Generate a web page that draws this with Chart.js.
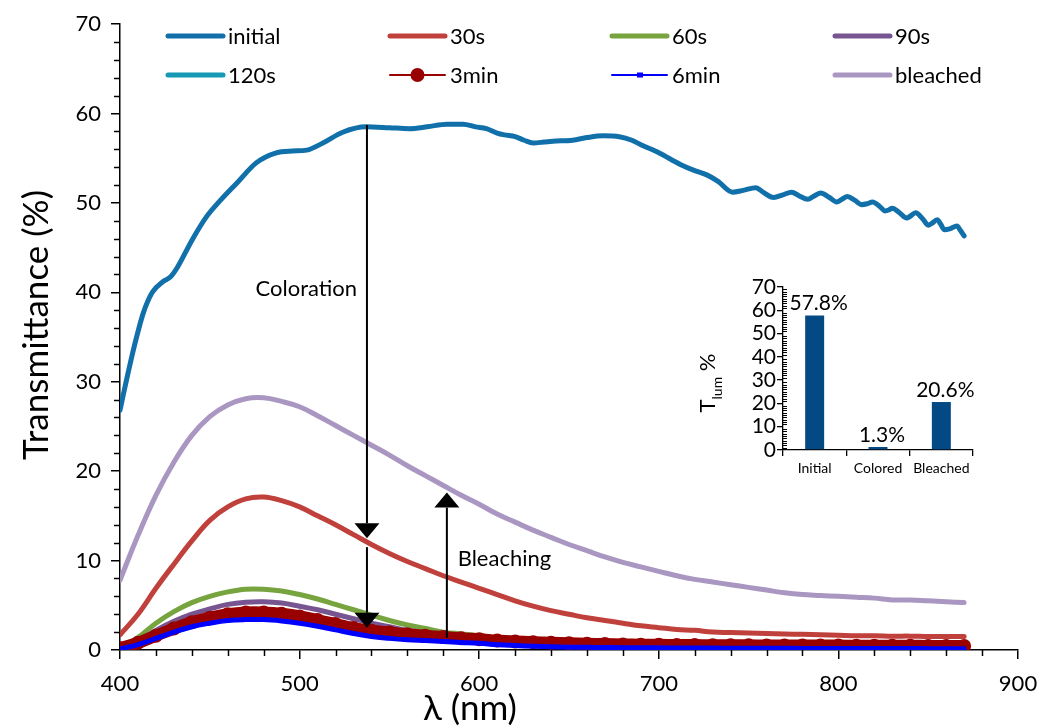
<!DOCTYPE html>
<html><head><meta charset="utf-8">
<script src="https://cdn.jsdelivr.net/npm/chart.js@4.4.1/dist/chart.umd.min.js"></script>
<style>
html,body{margin:0;padding:0;background:#fff;}
#wrap{position:relative;width:1043px;height:727px;overflow:hidden;}
#main{position:absolute;left:0;top:0;}
#inset{position:absolute;left:680px;top:270px;}
</style></head><body>
<div id="wrap"><canvas id="main" width="1043" height="727"></canvas><canvas id="inset" width="310" height="215"></canvas></div>
<script>
// ---------- data ----------
const wl = [400,410,420,430,440,450,460,470,480,490,500,510,520,530,540,550,560,570,580,590,600,610,620,630,640,650,660,670,680,690,700,710,720,730,740,750,760,770,780,790,800,810,820,830,840,850,860,870];

const initWl = [400,402,408,413,418,424,428,432,440,448,456,465,476,487,496,504,513,524,537,550,561,571,582,591,598,604,610,614,620,625,630,636,641,652,660,669,678,685,690,700,712,720,727,733,741,747,754,758,764,769,774,778,783,786,790,795,799,802,805,809,813,816,819,823,826,828,830,834,838,840,843,847,850,852,855,857,859,862,866,868,870];
const initT = [26.8,28.7,34.0,37.7,40.0,41.2,41.7,42.8,45.8,48.4,50.3,52.2,54.5,55.6,55.8,55.9,56.7,57.9,58.5,58.4,58.3,58.5,58.8,58.8,58.5,58.3,57.8,57.6,57.4,57.0,56.7,56.8,56.9,57.0,57.3,57.5,57.4,57.0,56.5,55.6,54.3,53.6,53.1,52.4,51.2,51.4,51.7,51.2,50.6,50.9,51.2,50.8,50.4,50.7,51.1,50.6,50.1,50.4,50.7,50.3,49.8,49.9,50.1,49.6,49.1,49.2,49.4,48.9,48.3,48.5,48.9,48.2,47.5,47.7,48.1,47.6,47.0,47.1,47.4,46.9,46.3];

const t30s = [1.7,4.0,6.9,9.6,12.2,14.5,16.0,16.9,17.1,16.7,16.0,15.0,14.0,12.9,11.8,10.8,9.9,9.1,8.3,7.6,6.9,6.2,5.5,4.9,4.4,4.0,3.6,3.3,3.0,2.7,2.5,2.3,2.2,2.0,1.95,1.9,1.85,1.8,1.75,1.7,1.65,1.6,1.6,1.55,1.55,1.5,1.5,1.5];
const t60s = [0.3,1.4,3.0,4.3,5.3,6.0,6.5,6.8,6.8,6.6,6.2,5.7,5.1,4.5,3.9,3.3,2.8,2.4,2.0,1.8,1.6,1.4,1.3,1.2,1.1,1.0,0.95,0.9,0.85,0.8,0.78,0.75,0.72,0.7,0.68,0.66,0.64,0.62,0.6,0.58,0.57,0.56,0.55,0.54,0.53,0.52,0.51,0.5];
const t90s = [0.2,1.0,2.2,3.2,4.0,4.6,5.1,5.35,5.4,5.25,4.9,4.5,4.0,3.5,3.0,2.6,2.2,1.9,1.65,1.45,1.3,1.15,1.05,0.95,0.9,0.85,0.8,0.76,0.72,0.7,0.67,0.65,0.63,0.61,0.59,0.57,0.56,0.55,0.54,0.53,0.52,0.51,0.5,0.49,0.48,0.47,0.46,0.45];
const t120s = [0.2,0.9,1.8,2.6,3.3,3.8,4.2,4.4,4.45,4.3,4.0,3.6,3.2,2.8,2.4,2.1,1.8,1.55,1.35,1.2,1.05,0.95,0.88,0.8,0.75,0.72,0.69,0.66,0.63,0.61,0.59,0.57,0.56,0.55,0.54,0.53,0.52,0.51,0.5,0.5,0.49,0.48,0.48,0.47,0.47,0.46,0.46,0.45];
const t3min = [0.2,0.8,1.6,2.4,3.1,3.6,4.0,4.2,4.2,4.05,3.75,3.35,2.9,2.45,2.15,1.95,1.75,1.6,1.45,1.3,1.2,1.05,0.95,0.88,0.8,0.75,0.7,0.66,0.62,0.6,0.58,0.56,0.55,0.54,0.53,0.52,0.51,0.5,0.5,0.49,0.49,0.48,0.48,0.47,0.47,0.46,0.46,0.45];
const t6min = [0.1,0.6,1.3,2.0,2.6,3.0,3.3,3.4,3.4,3.25,3.0,2.65,2.25,1.85,1.5,1.3,1.15,1.05,0.95,0.85,0.75,0.6,0.5,0.42,0.36,0.32,0.3,0.28,0.26,0.25,0.24,0.23,0.22,0.21,0.2,0.2,0.19,0.19,0.18,0.18,0.17,0.17,0.16,0.16,0.16,0.15,0.15,0.15];
const tBleached = [7.8,12.8,17.3,21.0,24.0,26.1,27.4,28.1,28.2,27.8,27.2,26.2,25.1,24.0,22.9,21.8,20.6,19.5,18.4,17.3,16.3,15.2,14.3,13.4,12.6,11.8,11.1,10.4,9.8,9.3,8.8,8.3,7.9,7.6,7.3,7.0,6.7,6.4,6.2,6.1,6.0,5.9,5.8,5.6,5.6,5.5,5.4,5.3];

const seriesNames = ['initial','30s','60s','90s','120s','3min','6min','bleached'];
const xTicks = [400,500,600,700,800,900];
const yTicks = [0,10,20,30,40,50,60,70];

// annotations (data coordinates)
const arrowX = [537.5, 537.5, 582];
const arrowFrom = [58.7, 11.5, 1.35];
const arrowTo = [12.5, 2.5, 17.6];
const noteText = ['Coloration', 'Bleaching'];
const noteX = [532, 588];
const noteY = [40.4, 10.2];

// inset
const insetCats = ['Initial','Colored','Bleached'];
const insetVals = [57.8, 1.3, 20.6];
const insetTicks = [0,10,20,30,40,50,60,70];

// ---------- rendering ----------
const FONT = 'Lato, "Open Sans", sans-serif';
const pts = (xs, ys) => xs.map((x, i) => ({x: x, y: ys[i]}));

const styles = [
  {c:'#1170AA', w:5},
  {c:'#C0403C', w:5},
  {c:'#77A43F', w:5},
  {c:'#775590', w:5},
  {c:'#1599B4', w:5},
  {c:'#990000', w:12, pr:7, ps:'circle'},
  {c:'#0000FF', w:5, pr:2.5, ps:'rect'},
  {c:'#A997C2', w:5}
];
const seriesData = [pts(initWl, initT), pts(wl,t30s), pts(wl,t60s), pts(wl,t90s), pts(wl,t120s), pts(wl,t3min), pts(wl,t6min), pts(wl,tBleached)];

const datasets = seriesNames.map((n, i) => ({
  label: n,
  data: seriesData[i],
  borderColor: styles[i].c,
  backgroundColor: styles[i].c,
  borderWidth: styles[i].w,
  pointRadius: styles[i].pr || 0,
  pointStyle: styles[i].ps || 'circle',
  pointBackgroundColor: styles[i].c,
  pointBorderWidth: 0,
  borderCapStyle: 'round',
  borderJoinStyle: 'round',
  cubicInterpolationMode: i === 0 ? 'monotone' : 'default',
  tension: 0.4,
  fill: false,
  order: 7 - i
}));

const decorPlugin = {
  id: 'decor',
  afterDraw(chart) {
    const ctx = chart.ctx, xs = chart.scales.x, ys = chart.scales.y, ca = chart.chartArea;
    ctx.save();
    // minor ticks
    ctx.strokeStyle = '#000'; ctx.lineWidth = 1.5;
    for (let v = 420; v < 900; v += 20) {
      if (v % 100 === 0) continue;
      const px = Math.round(xs.getPixelForValue(v)) + 0.5;
      ctx.beginPath(); ctx.moveTo(px, ca.bottom); ctx.lineTo(px, ca.bottom + 6); ctx.stroke();
    }
    for (let v = 2; v < 70; v += 2) {
      if (v % 10 === 0) continue;
      const py = Math.round(ys.getPixelForValue(v)) + 0.5;
      ctx.beginPath(); ctx.moveTo(ca.left, py); ctx.lineTo(ca.left - 6, py); ctx.stroke();
    }
    // arrows
    ctx.fillStyle = '#000'; ctx.strokeStyle = '#000'; ctx.lineWidth = 2;
    for (let i = 0; i < arrowX.length; i++) {
      const x = xs.getPixelForValue(arrowX[i]);
      const y1 = ys.getPixelForValue(arrowFrom[i]);
      const y2 = ys.getPixelForValue(arrowTo[i]);
      const dir = y2 > y1 ? 1 : -1;
      const hl = 15, hw = 12.5;
      ctx.beginPath(); ctx.moveTo(x, y1); ctx.lineTo(x, y2 - dir * hl); ctx.stroke();
      ctx.beginPath(); ctx.moveTo(x, y2); ctx.lineTo(x - hw, y2 - dir * hl); ctx.lineTo(x + hw, y2 - dir * hl); ctx.closePath(); ctx.fill();
    }
    // notes
    ctx.font = '22px ' + FONT; ctx.textBaseline = 'middle';
    ctx.textAlign = 'right';
    ctx.fillText(noteText[0], xs.getPixelForValue(noteX[0]), ys.getPixelForValue(noteY[0]));
    ctx.textAlign = 'left';
    ctx.fillText(noteText[1], xs.getPixelForValue(noteX[1]), ys.getPixelForValue(noteY[1]));
    // axis titles
    ctx.font = '35px ' + FONT; ctx.textAlign = 'center'; ctx.textBaseline = 'alphabetic';
    ctx.fillText('λ (nm)', 470, 720);
    ctx.save(); ctx.translate(48, 325); ctx.rotate(-Math.PI / 2);
    ctx.fillText('Transmittance (%)', 0, 0); ctx.restore();
    // legend
    const colX = [168, 390, 612, 835], rowY = [36, 75];
    ctx.font = '22px ' + FONT; ctx.textBaseline = 'middle'; ctx.textAlign = 'left';
    chart.data.datasets.forEach((ds, i) => {
      const x = colX[i % 4], y = rowY[Math.floor(i / 4)];
      ctx.strokeStyle = ds.borderColor; ctx.lineCap = 'round';
      const marker = ds.pointRadius > 0;
      ctx.lineWidth = marker ? 2 : 5;
      ctx.beginPath(); ctx.moveTo(x, y); ctx.lineTo(x + 55, y); ctx.stroke();
      if (marker) {
        ctx.fillStyle = ds.borderColor;
        if (ds.pointStyle === 'circle') { ctx.beginPath(); ctx.arc(x + 27.5, y, 7, 0, Math.PI * 2); ctx.fill(); }
        else { ctx.fillRect(x + 25, y - 2.5, 6, 5); }
      }
      ctx.fillStyle = '#000';
      ctx.fillText(ds.label, x + 60, y + 1);
    });
    ctx.restore();
  }
};

new Chart(document.getElementById('main'), {
  type: 'line',
  data: { datasets: datasets },
  options: {
    responsive: false, animation: false,
    layout: { padding: { top: 24, right: 25, left: 0, bottom: 0 } },
    plugins: { legend: { display: false }, tooltip: { enabled: false } },
    scales: {
      x: {
        type: 'linear', min: 400, max: 900,
        afterFit(s) { s.height = 77; s.paddingRight = 0; s.paddingLeft = 0; },
        afterBuildTicks(s) { s.ticks = xTicks.map(v => ({ value: v })); },
        ticks: { font: { family: FONT, size: 22 }, color: '#000', padding: 12, maxRotation: 0, autoSkip: false },
        grid: { drawOnChartArea: false, tickLength: 9, color: '#000', lineWidth: 1.5 },
        border: { color: '#000', width: 1.5 }
      },
      y: {
        min: 0, max: 70,
        afterFit(s) { s.width = 120; s.paddingTop = 0; s.paddingBottom = 0; },
        afterBuildTicks(s) { s.ticks = yTicks.map(v => ({ value: v })); },
        ticks: { font: { family: FONT, size: 22 }, color: '#000', padding: 10, autoSkip: false },
        grid: { drawOnChartArea: false, tickLength: 9, color: '#000', lineWidth: 1.5 },
        border: { color: '#000', width: 1.5 }
      }
    }
  },
  plugins: [decorPlugin]
});

const insetPlugin = {
  id: 'insetDecor',
  afterDraw(chart) {
    const ctx = chart.ctx, ys = chart.scales.y, ca = chart.chartArea;
    ctx.save();
    ctx.strokeStyle = '#000'; ctx.lineWidth = 1;
    for (let v = 1; v < 70; v++) {
      if (v % 10 === 0) continue;
      const py = Math.round(ys.getPixelForValue(v)) + 0.5;
      ctx.beginPath(); ctx.moveTo(ca.left, py); ctx.lineTo(ca.left + 4, py); ctx.stroke();
    }
    // value labels
    const meta = chart.getDatasetMeta(0);
    ctx.fillStyle = '#000'; ctx.font = '21px ' + FONT; ctx.textAlign = 'center'; ctx.textBaseline = 'alphabetic';
    meta.data.forEach((bar, i) => {
      ctx.fillText(insetVals[i].toFixed(1) + '%', bar.x + 4, bar.y - 5);
    });
    // y title with subscript
    ctx.save(); ctx.translate(35, 113); ctx.rotate(-Math.PI / 2);
    ctx.font = '22px ' + FONT; const wT = ctx.measureText('T').width; const wP = ctx.measureText(' %').width;
    ctx.font = '14px ' + FONT; const wS = ctx.measureText('lum').width;
    let x0 = -(wT + wS + wP) / 2;
    ctx.textAlign = 'left';
    ctx.font = '22px ' + FONT; ctx.fillText('T', x0, 0);
    ctx.font = '14px ' + FONT; ctx.fillText('lum', x0 + wT, 7);
    ctx.font = '22px ' + FONT; ctx.fillText(' %', x0 + wT + wS, 0);
    ctx.restore();
    ctx.restore();
  }
};

new Chart(document.getElementById('inset'), {
  type: 'bar',
  data: { labels: insetCats, datasets: [{ data: insetVals, backgroundColor: '#034A84', barPercentage: 0.6, categoryPercentage: 0.5 }] },
  options: {
    responsive: false, animation: false,
    layout: { padding: { top: 17, right: 17, left: 0, bottom: 0 } },
    plugins: { legend: { display: false }, tooltip: { enabled: false } },
    scales: {
      x: {
        afterFit(s) { s.height = 35; s.paddingRight = 0; s.paddingLeft = 0; },
        ticks: { font: { family: FONT, size: 14 }, color: '#000', padding: 4, maxRotation: 0, autoSkip: false },
        grid: { offset: true, drawOnChartArea: false, tickLength: 6, color: '#000', lineWidth: 1.3 },
        border: { color: '#000', width: 1.3 }
      },
      y: {
        min: 0, max: 70,
        afterFit(s) { s.width = 103; s.paddingTop = 0; s.paddingBottom = 0; },
        afterBuildTicks(s) { s.ticks = insetTicks.map(v => ({ value: v })); },
        ticks: { font: { family: FONT, size: 21 }, color: '#000', padding: 1, autoSkip: false },
        grid: { drawOnChartArea: false, tickLength: 6, color: '#000', lineWidth: 1.3 },
        border: { color: '#000', width: 1.3 }
      }
    }
  },
  plugins: [insetPlugin]
});
</script>
</body></html>
